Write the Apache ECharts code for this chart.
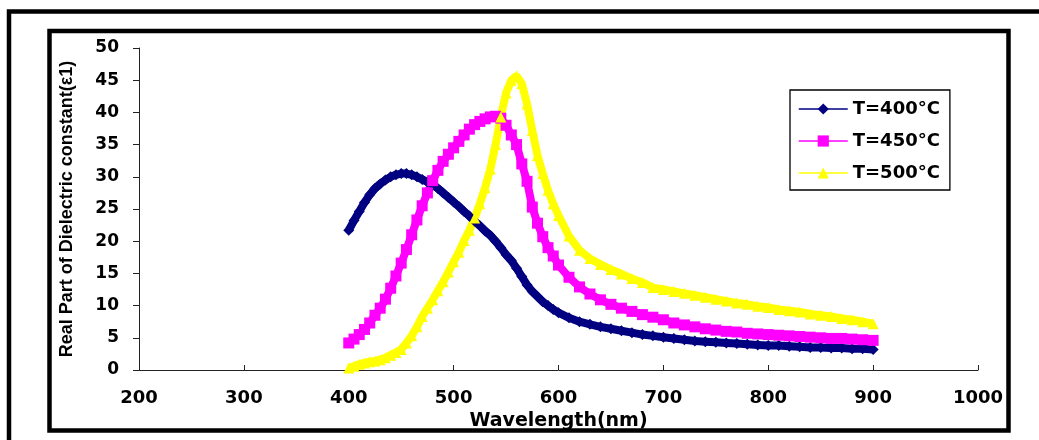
<!DOCTYPE html>
<html>
<head>
<meta charset="utf-8">
<script src="https://cdn.jsdelivr.net/npm/echarts@6/dist/echarts.min.js"></script>
<style>
  html, body { margin: 0; padding: 0; background: #fff; }
  #dielectricChart { width: 1039px; height: 440px; }
</style>
</head>
<body>
<div id="dielectricChart"></div>
<script>
// wavelength (nm) shared by all three curves
var wavelength = [
  400, 405, 410, 415, 420, 425, 430, 435, 440, 445,
  450, 455, 460, 465, 470, 475, 480, 485, 490, 495,
  500, 505, 510, 515, 520, 525, 530, 535, 540, 545,
  550, 555, 560, 565, 570, 575, 580, 585, 590, 595,
  600, 610, 620, 630, 640, 650, 660, 670, 680, 690,
  700, 710, 720, 730, 740, 750, 760, 770, 780, 790,
  800, 810, 820, 830, 840, 850, 860, 870, 880, 890, 900
];

var t400 = [
  21.7, 23.2, 24.6, 26.0, 27.2, 28.2, 28.9, 29.5, 30.0, 30.3,
  30.5, 30.5, 30.3, 30.0, 29.6, 29.2, 28.7, 28.2, 27.5, 26.8,
  26.1, 25.4, 24.6, 23.9, 23.1, 22.4, 21.6, 20.9, 20.0, 19.0,
  17.9, 17.0, 15.8, 14.5, 13.2, 12.2, 11.4, 10.6, 10.0, 9.4,
  8.9, 8.1, 7.5, 7.1, 6.7, 6.4, 6.1, 5.8, 5.5, 5.3,
  5.1, 4.9, 4.7, 4.5, 4.4, 4.3, 4.2, 4.1, 4.0, 3.9,
  3.8, 3.8, 3.7, 3.6, 3.5, 3.5, 3.4, 3.4, 3.3, 3.3, 3.2
];

var t450 = [
  4.2, 4.8, 5.5, 6.3, 7.3, 8.5, 9.6, 11.0, 12.7, 14.6,
  16.6, 18.7, 21.0, 23.3, 25.5, 27.5, 29.4, 31.0, 32.4, 33.5,
  34.5, 35.5, 36.5, 37.4, 38.1, 38.6, 39.0, 39.3, 39.4, 39.1,
  38.0, 36.5, 35.0, 32.0, 29.3, 25.3, 22.8, 20.7, 19.0, 17.7,
  16.3, 14.4, 12.9, 11.8, 10.9, 10.2, 9.6, 9.1, 8.6, 8.2,
  7.8, 7.3, 7.0, 6.7, 6.4, 6.2, 6.0, 5.9, 5.7, 5.6,
  5.5, 5.4, 5.3, 5.2, 5.1, 5.0, 4.9, 4.9, 4.8, 4.7, 4.6
];

var t500 = [
  0.3, 0.6, 0.9, 1.1, 1.3, 1.4, 1.6, 1.9, 2.3, 2.7,
  3.2, 4.2, 5.3, 6.7, 8.3, 9.6, 10.9, 12.3, 13.7, 15.2,
  16.8, 18.3, 20.1, 21.7, 23.6, 25.8, 28.3, 31.2, 35.0, 39.3,
  43.0, 45.0, 45.7, 44.5, 41.3, 37.2, 33.3, 30.5, 27.9, 25.8,
  24.0, 20.8, 18.6, 17.3, 16.4, 15.6, 14.9, 14.2, 13.6, 12.8,
  12.5, 12.2, 11.9, 11.6, 11.3, 11.0, 10.7, 10.4, 10.2, 9.9,
  9.7, 9.4, 9.2, 9.0, 8.7, 8.5, 8.3, 8.0, 7.8, 7.5, 7.2
];

var seriesNames = ['T=400°C', 'T=450°C', 'T=500°C'];

function pairs(ys) {
  return wavelength.map(function (x, i) { return [x, ys[i]]; });
}

function makeSeries(name, ys, color, symbol) {
  return {
    name: name,
    type: 'line',
    symbol: symbol,
    symbolSize: 11,
    showAllSymbol: true,
    itemStyle: { color: color },
    lineStyle: { color: color, width: 8 },
    data: pairs(ys)
  };
}

var option = {
  animation: false,
  backgroundColor: '#fff',
  grid: { left: 139, top: 48, width: 839, height: 322 },
  xAxis: {
    type: 'value',
    min: 200,
    max: 1000,
    interval: 100,
    name: 'Wavelength(nm)',
    nameLocation: 'middle',
    nameGap: 39,
    nameTextStyle: { color: '#000', fontFamily: 'DejaVu Sans', fontWeight: 'bold', fontSize: 19 },
    axisLine: { lineStyle: { color: '#222', width: 1 } },
    axisTick: { inside: true, length: 5, lineStyle: { color: '#222' } },
    axisLabel: {
      color: '#000', fontFamily: 'DejaVu Sans', fontWeight: 'bold', fontSize: 18, margin: 19,
      formatter: function (v) { return String(v); }
    },
    splitLine: { show: false }
  },
  yAxis: {
    type: 'value',
    min: 0,
    max: 50,
    interval: 5,
    name: 'Real Part of Dielectric constant(ε1)',
    nameLocation: 'middle',
    nameGap: 63,
    nameTextStyle: { color: '#000', fontFamily: 'Liberation Sans', fontWeight: 'bold', fontSize: 18 },
    axisLine: { show: true, lineStyle: { color: '#222', width: 1 } },
    axisTick: { show: true, length: 6, lineStyle: { color: '#222' } },
    axisLabel: { color: '#000', fontFamily: 'DejaVu Sans', fontWeight: 'bold', fontSize: 17, margin: 20 },
    splitLine: { show: false }
  },
  legend: {
    orient: 'vertical',
    left: 790,
    top: 90,
    padding: [10, 10, 8, 8],
    itemWidth: 49,
    itemHeight: 14,
    itemGap: 14,
    backgroundColor: '#fff',
    borderColor: '#000',
    borderWidth: 1.3,
    borderRadius: 0,
    lineStyle: { width: 1.5 },
    textStyle: { color: '#000', fontFamily: 'DejaVu Sans', fontWeight: 'bold', fontSize: 18 },
    data: seriesNames
  },
  graphic: [
    {
      type: 'rect',
      shape: { x: 9, y: 11.5, width: 1200, height: 600 },
      style: { fill: 'none', stroke: '#000', lineWidth: 4.5 },
      silent: true
    },
    {
      type: 'rect',
      shape: { x: 49.5, y: 31, width: 959, height: 399.5 },
      style: { fill: 'none', stroke: '#000', lineWidth: 4.5 },
      silent: true
    }
  ],
  series: [
    makeSeries(seriesNames[0], t400, '#000080', 'diamond'),
    makeSeries(seriesNames[1], t450, '#FF00FF', 'rect'),
    makeSeries(seriesNames[2], t500, '#FFFF00', 'triangle')
  ]
};

var dielectricChart = echarts.init(document.getElementById('dielectricChart'));
dielectricChart.setOption(option);
</script>
</body>
</html>
